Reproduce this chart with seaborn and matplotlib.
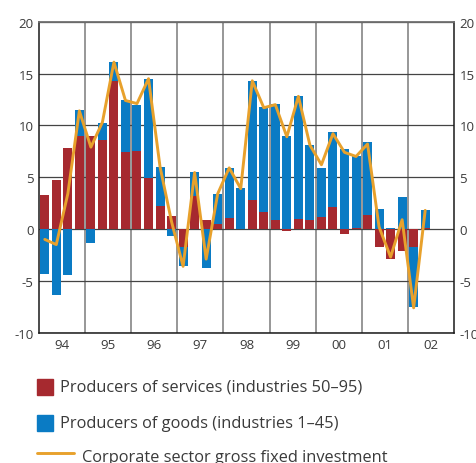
import numpy as np
import pandas as pd
import matplotlib
matplotlib.use("Agg")
import matplotlib.pyplot as plt
import seaborn as sns
from matplotlib.patches import Rectangle
from matplotlib.lines import Line2D

# =============================================================================
# DATA (quarterly contributions, 1994Q1 - 2002Q2, percent)
# =============================================================================
quarters = [f"{y:02d}Q{q}" for y in [94, 95, 96, 97, 98, 99, 0, 1, 2] for q in range(1, 5)][:34]

services = [3.3, 4.7, 7.8, 9.0,
            9.0, 8.6, 14.3, 7.4,
            7.5, 4.9, 2.2, 1.3,
            -1.7, 3.2, 0.9, 0.5,
            1.1, 0.0, 2.8, 1.6,
            0.9, -0.2, 1.0, 0.9,
            1.2, 2.1, -0.5, 0.1,
            1.4, -1.7, -2.9, -2.1,
            -1.7, 0.1]

goods = [-4.3, -6.35, -4.4, 2.5,
         -1.35, 1.6, 1.8, 5.0,
         4.5, 9.6, 3.8, -0.65,
         -1.9, 2.3, -3.75, 2.9,
         4.8, 3.95, 11.5, 10.2,
         11.2, 9.0, 11.8, 7.2,
         4.7, 7.3, 7.7, 6.9,
         7.0, 1.9, 0.1, 3.1,
         -5.8, 1.7]

investment = [-1.0, -1.5, 3.4, 11.4,
              7.9, 10.3, 16.1, 12.4,
              12.1, 14.5, 6.0, 0.7,
              -3.6, 5.45, -2.9, 3.4,
              5.9, 3.9, 14.3, 11.7,
              12.0, 8.9, 12.8, 8.1,
              6.2, 9.2, 7.4, 7.0,
              8.2, 0.2, -2.7, 0.9,
              -7.6, 1.8]

year_labels = ["94", "95", "96", "97", "98", "99", "00", "01", "02"]
y_ticks = [-10, -5, 0, 5, 10, 15, 20]

RED = "#A6292F"
BLUE = "#0A7BC4"
ORANGE = "#E8A12C"
TEXT = "#3a3a3a"

# =============================================================================
# PREP: diverging stack (blue outer bar drawn first, red drawn on top)
# =============================================================================
df = pd.DataFrame({"quarter": quarters, "services": services,
                   "goods": goods, "investment": investment})
df["pos"] = np.arange(len(df))
same_sign = np.sign(df["services"]) == np.sign(df["goods"])
df["goods_outer"] = np.where(same_sign, df["goods"] + df["services"], df["goods"])

# =============================================================================
# PLOT
# =============================================================================
sns.set_theme(style="white")
plt.rcParams["font.family"] = ["Open Sans", "DejaVu Sans"]

fig = plt.figure(figsize=(4.76, 4.64), dpi=100)
ax = fig.add_axes([39 / 476, 1 - 333.7 / 464, 415 / 476, 311 / 464])

sns.barplot(data=df, x="pos", y="goods_outer", native_scale=True, color=BLUE,
            saturation=1, width=0.78, errorbar=None, linewidth=0, ax=ax, zorder=2)
sns.barplot(data=df, x="pos", y="services", native_scale=True, color=RED,
            saturation=1, width=0.78, errorbar=None, linewidth=0, ax=ax, zorder=3)
sns.lineplot(data=df, x="pos", y="investment", color=ORANGE, linewidth=2.1,
             ax=ax, zorder=4)

ax.set_xlim(-0.5, 35.5)
ax.set_ylim(-10, 20)
ax.set_xlabel("")
ax.set_ylabel("")

ax.set_xticks([1.5 + 4 * k for k in range(9)])
ax.set_xticklabels(year_labels)
ax.set_xticks([3.5 + 4 * k for k in range(8)], minor=True)
ax.set_yticks(y_ticks)
ax.set_yticklabels([str(t) for t in y_ticks])

ax.set_axisbelow(True)
ax.grid(False)
ax.grid(True, axis="y", which="major", color="#444444", linewidth=0.9)
ax.grid(True, axis="x", which="minor", color="#7a7a7a", linewidth=1.1)

ax.tick_params(axis="both", which="both", length=0, labelsize=9.5, labelcolor=TEXT)
ax.tick_params(axis="y", labelright=True, pad=4)
ax.tick_params(axis="x", pad=4)

for side in ["left", "right", "bottom"]:
    ax.spines[side].set_color("#1a1a1a")
    ax.spines[side].set_linewidth(1.1)
ax.spines["top"].set_color("#707070")
ax.spines["top"].set_linewidth(1.3)

# Legend (drawn manually in figure pixels)
W, H = 476, 464
fig.add_artist(Rectangle((37 / W, 1 - 396 / H), 16 / W, 16 / H,
                         transform=fig.transFigure, color=RED))
fig.text(60 / W, 1 - 388 / H, "Producers of services (industries 50\u201395)",
         fontsize=11.8, color=TEXT, va="center", ha="left")
fig.add_artist(Rectangle((37 / W, 1 - 432 / H), 16 / W, 16 / H,
                         transform=fig.transFigure, color=BLUE))
fig.text(60 / W, 1 - 424 / H, "Producers of goods (industries 1\u201345)",
         fontsize=11.8, color=TEXT, va="center", ha="left")
fig.add_artist(Line2D([37 / W, 74 / W], [1 - 454 / H, 1 - 454 / H],
                      transform=fig.transFigure, color=ORANGE, linewidth=2.1))
fig.text(82 / W, 1 - 458 / H, "Corporate sector gross fixed investment",
         fontsize=11.8, color=TEXT, va="center", ha="left")

plt.savefig("out.png", dpi=100)
